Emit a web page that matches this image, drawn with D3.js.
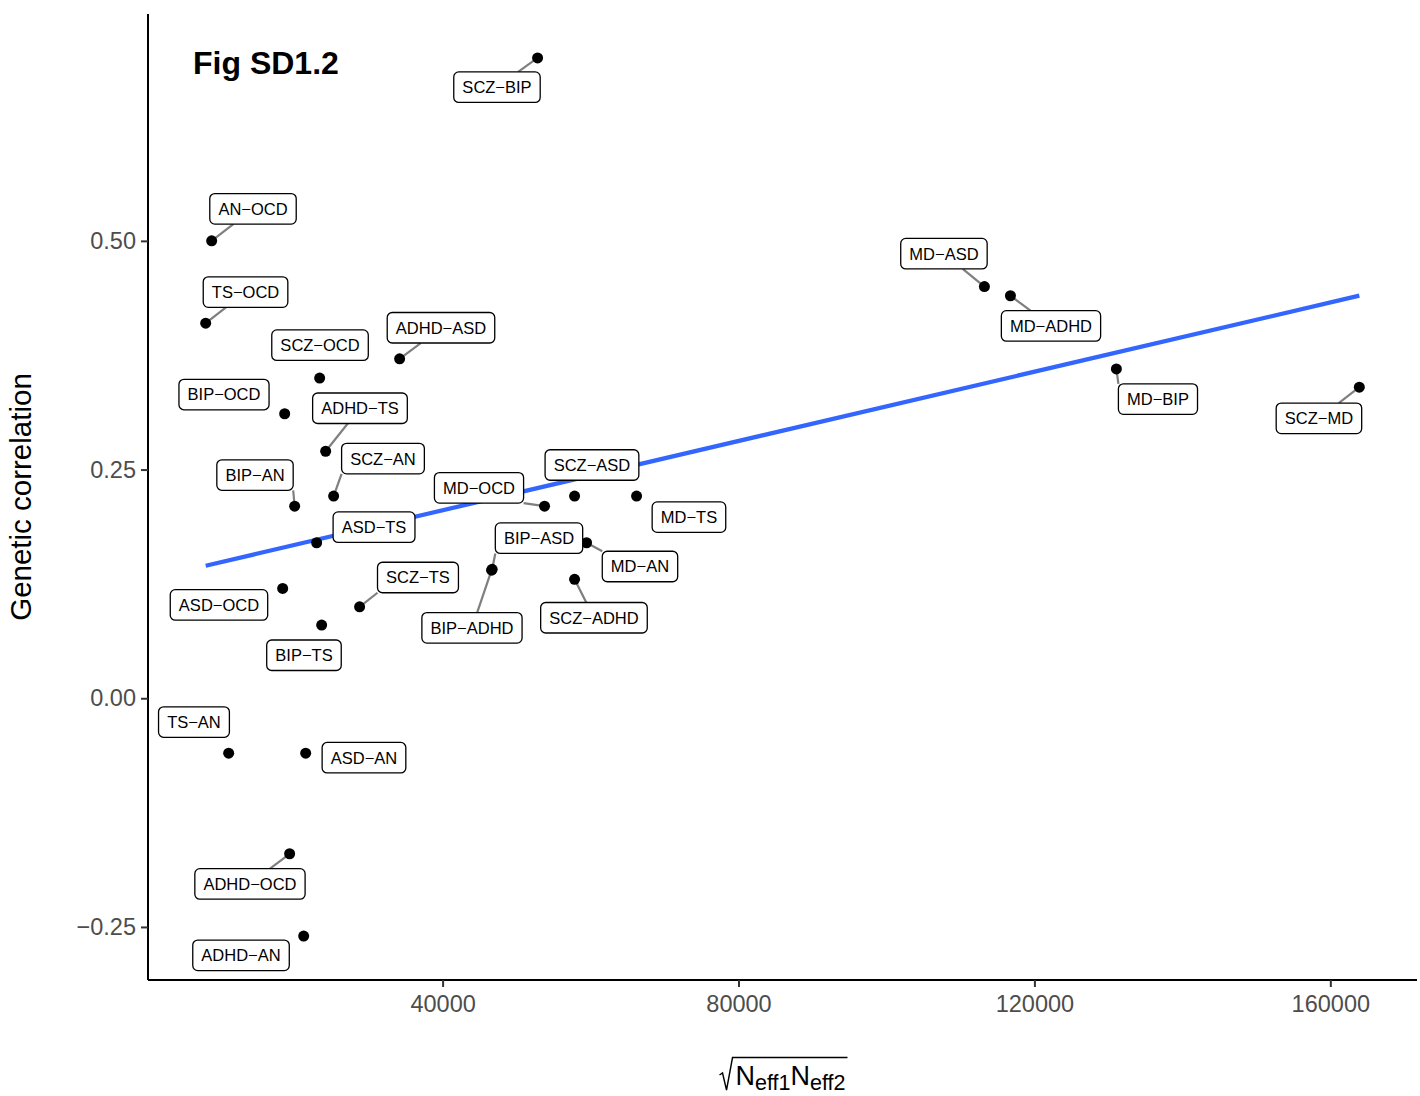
<!DOCTYPE html>
<html>
<head>
<meta charset="utf-8">
<script src="https://cdn.jsdelivr.net/npm/d3@7/dist/d3.min.js"></script>
<style>
  html, body { margin: 0; padding: 0; background: #fff; }
  svg { display: block; font-family: "Liberation Sans", Arial, Helvetica, sans-serif; }
</style>
</head>
<body>
<svg id="chart" width="1420" height="1096"></svg>
<script>
// Trait pairs: sqrt(Neff1*Neff2) and genetic correlation
const pairs = ["SCZ−BIP","AN−OCD","TS−OCD","SCZ−OCD","ADHD−ASD","BIP−OCD","ADHD−TS","SCZ−AN","BIP−AN","ASD−TS",
  "ASD−OCD","SCZ−TS","BIP−TS","TS−AN","ASD−AN","ADHD−OCD","ADHD−AN","MD−OCD","SCZ−ASD","MD−TS",
  "MD−AN","BIP−ASD","BIP−ADHD","SCZ−ADHD","MD−ASD","MD−ADHD","MD−BIP","SCZ−MD"];
const neff = [52840, 8780, 7973, 23380, 34190, 18650, 24190, 25270, 20000, 22970,
  18380, 28780, 23650, 11080, 21490, 19320, 21220, 53780, 57840, 66220,
  59460, 46700, 46620, 57840, 113240, 116760, 131080, 163919];
const rg = [0.700, 0.500, 0.410, 0.350, 0.371, 0.311, 0.270, 0.221, 0.210, 0.170,
  0.120, 0.100, 0.080, -0.060, -0.060, -0.170, -0.260, 0.210, 0.221, 0.221,
  0.170, 0.141, 0.140, 0.130, 0.450, 0.440, 0.360, 0.340];

// Repelled label anchors (data units) and whether a leader segment is drawn
const labelNeff = [47350, 14370, 13360, 23430, 39780, 10450, 28830, 31940, 14640, 30730,
  9770, 36670, 21260, 6390, 29370, 13960, 12750, 44920, 60190, 73300,
  66680, 53030, 43970, 60460, 107770, 122240, 136700, 158460];
const labelRg = [0.668, 0.535, 0.444, 0.386, 0.405, 0.332, 0.317, 0.262, 0.244, 0.187,
  0.102, 0.132, 0.047, -0.026, -0.065, -0.203, -0.281, 0.230, 0.255, 0.198,
  0.144, 0.175, 0.077, 0.088, 0.486, 0.407, 0.327, 0.306];
const hasLink = [1,1,1,0,1,0,1,1,1,0, 0,1,0,0,0,1,0,1,0,0, 1,1,1,1,1,1,1,1];

const xTicks = [40000, 80000, 120000, 160000];
const yTicks = [-0.25, 0, 0.25, 0.5];

const svg = d3.select("#chart");
const pLeft = 148, pRight = 1417, pTop = 14, pBottom = 980;

// ggplot-style 5% expansion of the data range
const xr = d3.extent(neff), yr = d3.extent(rg);
const xpad = (xr[1] - xr[0]) * 0.05, ypad = (yr[1] - yr[0]) * 0.05;
const x = d3.scaleLinear().domain([xr[0] - xpad, xr[1] + xpad]).range([pLeft, pRight]);
const y = d3.scaleLinear().domain([yr[0] - ypad, yr[1] + ypad]).range([pBottom, pTop]);

// Least-squares fit
const mx = d3.mean(neff), my = d3.mean(rg);
let sxy = 0, sxx = 0;
neff.forEach((v, i) => { sxy += (v - mx) * (rg[i] - my); sxx += (v - mx) * (v - mx); });
const slope = sxy / sxx, icpt = my - slope * mx;

// Axes
const xAxis = d3.axisBottom(x).tickValues(xTicks).tickFormat(d3.format("d")).tickSizeOuter(0).tickSize(7).tickPadding(5);
const yAxis = d3.axisLeft(y).tickValues(yTicks).tickFormat(d => d3.format(".2f")(d).replace("-", "−")).tickSizeOuter(0).tickSize(7).tickPadding(5);

const gx = svg.append("g").attr("transform", `translate(0,${pBottom})`).call(xAxis);
const gy = svg.append("g").attr("transform", `translate(${pLeft},0)`).call(yAxis);
[gx, gy].forEach(g => {
  g.select(".domain").attr("stroke", "#000").attr("stroke-width", 2);
  g.selectAll(".tick line").attr("stroke", "#333").attr("stroke-width", 2);
  g.selectAll(".tick text").attr("fill", "#4D4D4D").style("font-size", "23.5px")
    .style("font-family", "'Liberation Sans', Arial, sans-serif");
});
gx.select(".domain").attr("d", `M${pLeft},0H${pRight}`);
gy.select(".domain").attr("d", `M0,${pTop}V${pBottom}`);
gx.selectAll(".tick text").attr("dy", "0.85em");

// Regression line over the data range
svg.append("line")
  .attr("x1", x(xr[0])).attr("y1", y(icpt + slope * xr[0]))
  .attr("x2", x(xr[1])).attr("y2", y(icpt + slope * xr[1]))
  .attr("stroke", "#3366FF").attr("stroke-width", 4.2);

// Measure label boxes
const fontSize = 16.5, padX = 8.6, boxH = 30.5;
const meas = svg.append("text").style("font-size", fontSize + "px");
const widths = pairs.map(p => { meas.text(p); return meas.node().getComputedTextLength() + 2 * padX; });
meas.remove();

const items = pairs.map((p, i) => ({
  name: p, px: x(neff[i]), py: y(rg[i]),
  cx: x(labelNeff[i]), cy: y(labelRg[i]), w: widths[i], h: boxH, link: hasLink[i]
}));

// Leader segment end: nearest corner when the point sits diagonally off the box,
// otherwise where the line toward the label centre meets the box edge
function boxEdge(d) {
  const x1 = d.cx - d.w / 2, x2 = d.cx + d.w / 2, y1 = d.cy - d.h / 2, y2 = d.cy + d.h / 2;
  const outX = d.px < x1 || d.px > x2, outY = d.py < y1 || d.py > y2;
  if (outX && outY) {
    return [Math.max(x1, Math.min(x2, d.px)), Math.max(y1, Math.min(y2, d.py))];
  }
  const dx = d.px - d.cx, dy = d.py - d.cy;
  const tx = dx !== 0 ? (d.w / 2) / Math.abs(dx) : Infinity;
  const ty = dy !== 0 ? (d.h / 2) / Math.abs(dy) : Infinity;
  const t = Math.min(tx, ty, 1);
  return [d.cx + dx * t, d.cy + dy * t];
}
svg.append("g").selectAll("line").data(items.filter(d => d.link)).join("line")
  .attr("x1", d => d.px).attr("y1", d => d.py)
  .attr("x2", d => boxEdge(d)[0]).attr("y2", d => boxEdge(d)[1])
  .attr("stroke", "#7F7F7F").attr("stroke-width", 2.2);

// Points
svg.append("g").selectAll("circle").data(items).join("circle")
  .attr("cx", d => d.px).attr("cy", d => d.py).attr("r", 5.5).attr("fill", "#000");

// Labels
const lg = svg.append("g").selectAll("g").data(items).join("g")
  .attr("transform", d => `translate(${d.cx},${d.cy})`);
lg.append("rect")
  .attr("x", d => -d.w / 2).attr("y", -boxH / 2).attr("width", d => d.w).attr("height", boxH)
  .attr("rx", 5).attr("fill", "#fff").attr("stroke", "#000").attr("stroke-width", 1.3);
lg.append("text").text(d => d.name)
  .attr("text-anchor", "middle").attr("dy", "0.36em")
  .style("font-size", fontSize + "px").attr("fill", "#000");

// Title
svg.append("text").attr("x", 193).attr("y", 73.5).text("Fig SD1.2")
  .style("font-size", "32px").style("font-weight", "bold").attr("fill", "#000");

// Y axis title
svg.append("text").attr("transform", `translate(30.5,${(pTop + pBottom) / 2}) rotate(-90)`)
  .attr("text-anchor", "middle").text("Genetic correlation")
  .style("font-size", "29.5px").attr("fill", "#000");

// X axis title: sqrt(N_eff1 N_eff2) with a drawn radical
const xt = svg.append("text").attr("y", 1085).style("font-size", "27px").attr("fill", "#000");
xt.append("tspan").text("N");
xt.append("tspan").text("eff1").attr("dy", 5).style("font-size", "21.5px");
xt.append("tspan").text("N").attr("dy", -5);
xt.append("tspan").text("eff2").attr("dy", 5).style("font-size", "21.5px");
const tw = xt.node().getComputedTextLength();
const rootW = 16;
const startX = (pLeft + pRight) / 2 - (tw + rootW) / 2 + rootW;
xt.attr("x", startX);
const ov = 1057.5;
svg.append("path")
  .attr("d", `M${startX - 16},${1075} L${startX - 13},${1073} L${startX - 9},${1090} L${startX - 3},${ov} H${startX + tw + 2}`)
  .attr("fill", "none").attr("stroke", "#000").attr("stroke-width", 1.4).attr("stroke-linejoin", "miter");
</script>
</body>
</html>
